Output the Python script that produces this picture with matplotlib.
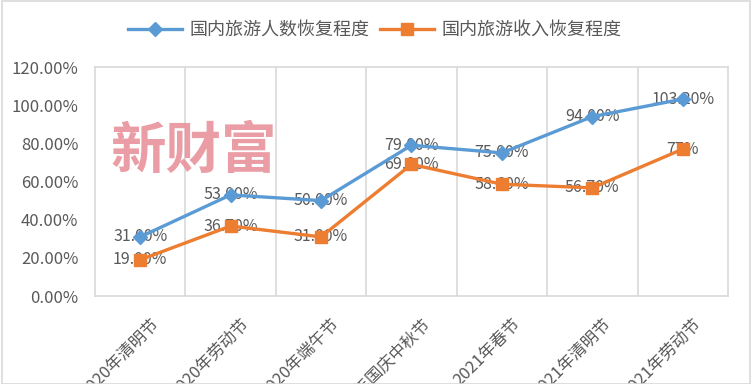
import matplotlib
matplotlib.use("Agg")
import matplotlib.pyplot as plt
from matplotlib.patches import Rectangle
from matplotlib.transforms import ScaledTranslation

plt.rcParams['font.family'] = ['Noto Sans CJK SC', 'DejaVu Sans']

categories = ["2020年清明节", "2020年劳动节", "2020年端午节", "2020年国庆中秋节",
              "2021年春节", "2021年清明节", "2021年劳动节"]
visitors = [31.0, 53.0, 50.0, 79.0, 75.0, 94.0, 103.2]
revenue = [19.0, 36.7, 31.0, 69.0, 58.6, 56.7, 77.0]
visitor_labels = ["31.00%", "53.00%", "50.00%", "79.00%", "75.00%", "94.00%", "103.20%"]
revenue_labels = ["19.00%", "36.70%", "31.00%", "69.00%", "58.60%", "56.70%", "77%"]
yticks = [0, 20, 40, 60, 80, 100, 120]
ytick_labels = ["0.00%", "20.00%", "40.00%", "60.00%", "80.00%", "100.00%", "120.00%"]
series_names = ["国内旅游人数恢复程度", "国内旅游收入恢复程度"]

blue = "#5B9BD5"
orange = "#ED7D31"
text_gray = "#595959"

fig = plt.figure(figsize=(7.52, 3.84), dpi=100)
ax = fig.add_axes([0.1263, 0.229, 0.8417, 0.5965])

x = list(range(len(categories)))
l1, = ax.plot(x, visitors, color=blue, lw=2.4, marker='D', markersize=7,
              zorder=4, label=series_names[0])
l2, = ax.plot(x, revenue, color=orange, lw=2.4, marker='s', markersize=9,
              zorder=4, label=series_names[1])

for xi, v, s in zip(x, visitors, visitor_labels):
    ax.text(xi, v, s, ha='center', va='center', fontsize=11.5, color=text_gray, zorder=3)
for xi, v, s in zip(x, revenue, revenue_labels):
    ax.text(xi, v, s, ha='center', va='center', fontsize=11.5, color=text_gray, zorder=3)

ax.set_xlim(-0.5, len(categories) - 0.5)
ax.set_ylim(0, 120)
ax.set_yticks(yticks)
ax.set_yticklabels(ytick_labels, fontsize=12, color=text_gray)
ax.set_xticks(x)
ax.set_xticklabels(categories, rotation=45, ha='right', va='top',
                   rotation_mode='anchor', fontsize=12, color=text_gray)
ax.tick_params(axis='y', length=0, pad=12)
ax.tick_params(axis='x', length=0, pad=14)
offset = ScaledTranslation(10 / 100, 0, fig.dpi_scale_trans)
for lab in ax.get_xticklabels():
    lab.set_transform(lab.get_transform() + offset)

for b in [i + 0.5 for i in x[:-1]]:
    ax.axvline(b, color='#d9d9d9', lw=1.2, zorder=1)
for sp in ax.spines.values():
    sp.set_color('#d9d9d9')
    sp.set_linewidth(1.2)

fig.text(0.258, 0.605, "新财富", fontsize=40, fontweight='bold', color='#e8939b',
         alpha=0.9, ha='center', va='center', zorder=0)

fig.legend(handles=[l1, l2], loc='center', bbox_to_anchor=(0.498, 0.922), ncol=2,
           frameon=False, fontsize=13, labelcolor=text_gray, handlelength=3.0,
           columnspacing=0.6, handletextpad=0.4)

fig.add_artist(Rectangle((0.002, 0.0), 0.995, 0.997, transform=fig.transFigure,
                         fill=False, edgecolor='#d9d9d9', lw=1.2))

fig.savefig("out.png", dpi=100)
